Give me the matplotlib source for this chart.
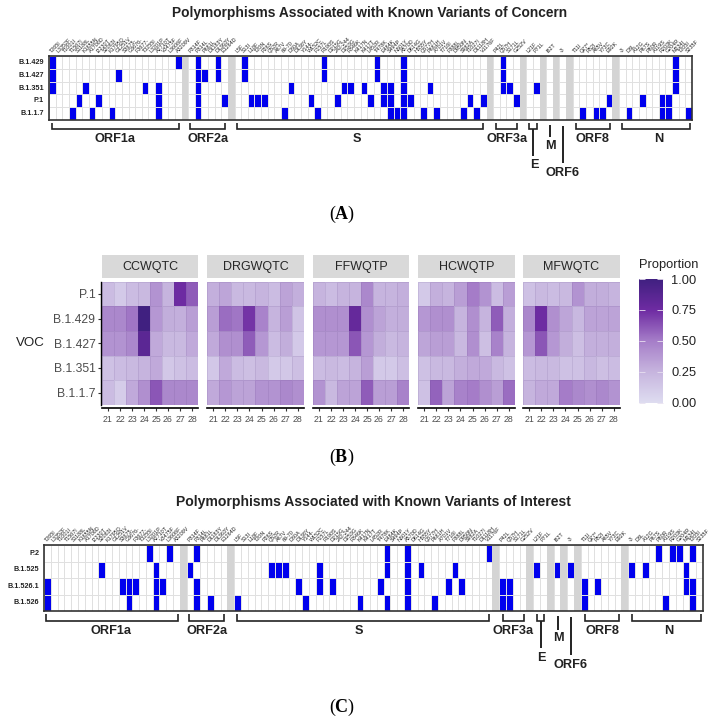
import numpy as np
import matplotlib
matplotlib.use("Agg")
import matplotlib.pyplot as plt
from matplotlib.colors import ListedColormap, LinearSegmentedColormap

plt.rcParams['font.family'] = ['Liberation Sans', 'DejaVu Sans']
plt.rcParams['mathtext.fontset'] = 'custom'
plt.rcParams['mathtext.rm'] = 'Liberation Serif'
plt.rcParams['mathtext.bf'] = 'Liberation Serif:bold'

W, H = 720, 726
N_COLS = 97

# column labels, the small text is barely readable so some of these are best guesses
orf1a = ['T265I', 'L3352F', 'T1001I', 'T1567I', 'S1188L', 'K1655N', 'A1708D', 'I2230T',
         'S2083I', 'K1795Q', 'G1251V', 'S3675-', 'G3676-', 'F3677-', 'T3255I', 'L3201P',
         'A2710T', 'V3475F', 'L3606F', 'A3209V']
orf2a = ['P314F', 'P314L', 'P681L', 'D1183Y', 'D1363Y', 'E1264D']
spike = ['L5F', 'S13I', 'L18F', 'T20N', 'P26S', 'Q52R', 'A67V', '69-70', 'D80A', 'D138Y',
         'Y144-', 'W152C', 'F157L', 'R190S', 'D215G', '242-244', 'D253G', 'R346K', 'K417N',
         'K417T', 'L452R', 'T478K', 'E484K', 'S494P', 'N501Y', 'A570D', 'D614G', 'H655Y',
         'Q677H', 'P681H', 'A701V', 'T716I', 'F888L', 'D950N', 'S982A', 'T1027I', 'D1118H',
         'V1176F']
orf3a = ['P42L', 'Q57H', 'S171L', 'G252V']
env = ['L21F', 'P71L']
mem = ['I82T']
orf6 = ['-3']
orf8 = ['T11I', 'Q27*', 'R52I', 'A65V', 'Y73C', 'E92K']
ncap = ['-3', 'D3L', 'A12G', 'P67S', 'P80R', 'A119S', 'R203K', 'G204R', 'M234I', 'T205I', 'S235F']

label_groups = [orf1a, orf2a, spike, orf3a, env, mem, orf6, orf8, ncap]
gap_cols = [20, 27, 66, 71, 74, 76, 78, 85]

# panel A, columns that are filled for each variant
voc_names = ['B.1.429', 'B.1.427', 'B.1.351', 'P.1', 'B.1.1.7']
b1429 = [0, 19, 22, 25, 29, 41, 49, 53, 68, 94]
b1427 = [0, 10, 22, 23, 25, 29, 41, 49, 53, 68, 94]
b1351 = [0, 5, 14, 16, 22, 36, 44, 45, 47, 50, 51, 53, 57, 68, 69, 73, 94]
p1 = [4, 7, 16, 22, 26, 30, 31, 32, 39, 43, 48, 50, 51, 53, 54, 63, 65, 70, 84, 89, 92, 93]
b117 = [3, 6, 9, 16, 22, 35, 40, 51, 52, 53, 56, 58, 62, 64, 80, 82, 83, 87, 92, 93, 96]
voc_hits = [b1429, b1427, b1351, p1, b117]

# panel C
voi_names = ['P.2', 'B.1.525', 'B.1.526.1', 'B.1.526']
p2 = [15, 18, 22, 50, 53, 65, 90, 92, 93, 95]
b1525 = [8, 16, 21, 33, 34, 35, 40, 50, 53, 55, 60, 72, 75, 77, 86, 88, 94]
b15261 = [0, 11, 12, 13, 16, 17, 22, 37, 40, 42, 49, 53, 59, 61, 67, 68, 79, 81, 94, 95]
b1526 = [0, 12, 16, 22, 24, 28, 38, 46, 50, 53, 57, 67, 68, 79, 91, 95]
voi_hits = [p2, b1525, b15261, b1526]

# panel B
positions = [21, 22, 23, 24, 25, 26, 27, 28]
heat_rows = ['P.1', 'B.1.429', 'B.1.427', 'B.1.351', 'B.1.1.7']
ccwqtc = [[.20, .12, .20, .22, .40, .25, .75, .60],
          [.45, .45, .52, 1.0, .38, .28, .27, .35],
          [.40, .40, .45, .85, .30, .22, .22, .30],
          [.17, .20, .22, .25, .30, .13, .17, .20],
          [.20, .10, .30, .42, .62, .45, .45, .45]]
drgwqtc = [[.27, .32, .22, .22, .25, .20, .33, .27],
           [.35, .55, .52, .72, .47, .25, .35, .15],
           [.30, .42, .42, .60, .38, .20, .28, .12],
           [.13, .30, .20, .18, .22, .12, .13, .18],
           [.30, .38, .33, .33, .40, .40, .45, .42]]
ffwqtp = [[.25, .20, .25, .25, .45, .25, .25, .27],
          [.42, .42, .42, .80, .42, .33, .27, .28],
          [.38, .38, .38, .62, .38, .28, .22, .25],
          [.20, .22, .20, .25, .35, .12, .12, .18],
          [.40, .22, .33, .33, .60, .35, .35, .48]]
hcwqtp = [[.12, .27, .25, .35, .50, .40, .20, .35],
          [.38, .42, .42, .25, .42, .25, .60, .27],
          [.32, .35, .35, .22, .42, .18, .48, .25],
          [.17, .22, .22, .27, .30, .30, .22, .17],
          [.17, .58, .33, .48, .50, .42, .35, .55]]
mfwqtc = [[.17, .22, .20, .22, .40, .28, .28, .25],
          [.45, .75, .42, .32, .23, .33, .33, .33],
          [.38, .62, .38, .28, .18, .27, .27, .27],
          [.20, .22, .22, .17, .17, .23, .18, .20],
          [.25, .30, .30, .50, .45, .42, .45, .40]]
motif_names = ['CCWQTC', 'DRGWQTC', 'FFWQTP', 'HCWQTP', 'MFWQTC']
motif_values = [ccwqtc, drgwqtc, ffwqtp, hcwqtp, mfwqtc]
cbar_ticks = [0.0, 0.25, 0.5, 0.75, 1.0]

# bracket spans in pixels: left, right, label, label x
A_BRACKETS = [(52, 179, 'ORF1a', 115), (190, 225, 'ORF2a', 208), (237, 483, 'S', 357),
              (496, 517, 'ORF3a', 507), (576, 610, 'ORF8', 593), (622, 690, 'N', 659)]
C_BRACKETS = [(46, 178, 'ORF1a', 111), (189, 224, 'ORF2a', 207), (237, 489, 'S', 359),
              (503, 524, 'ORF3a', 513), (585, 619, 'ORF8', 602), (632, 701, 'N', 669)]


def px_axes(fig, left, top, right, bottom):
    return fig.add_axes([left / W, 1 - bottom / H, (right - left) / W, (bottom - top) / H])


def grid_panel(fig, box, names, hits, name_right):
    ax = px_axes(fig, *box)
    matrix = np.zeros((len(names), N_COLS))
    for r, cols in enumerate(hits):
        matrix[r, cols] = 1
    ax.pcolormesh(np.arange(N_COLS + 1), np.arange(len(names) + 1), matrix,
                  cmap=ListedColormap(['white', '#0000ee']), vmin=0, vmax=1,
                  edgecolors='#e0e0e0', linewidth=0.6)
    for g in gap_cols:
        ax.axvspan(g, g + 1, color='#d4d4d4', lw=0, zorder=3)
    ax.set_xlim(0, N_COLS)
    ax.set_ylim(len(names), 0)

    labels = []
    ticks = []
    col = 0
    for group in label_groups:
        for name in group:
            ticks.append(col + 0.5)
            labels.append(name)
            col += 1
        col += 1
    ax.xaxis.tick_top()
    ax.set_xticks(ticks)
    ax.set_xticklabels(labels, rotation=45, ha='left', va='bottom', rotation_mode='anchor',
                       fontsize=3.9, color='#222222')
    ax.tick_params(axis='x', length=0, pad=1.5)
    ax.set_yticks([])
    for s in ax.spines.values():
        s.set_linewidth(1.2)
        s.set_color('#333333')
        s.set_zorder(5)
    row_h = (box[3] - box[1]) / len(names)
    for i, n in enumerate(names):
        ov.text(name_right, box[1] + row_h * (i + 0.5), n, ha='right', va='center',
                fontsize=5.2, fontweight='bold', color='#222222')


def bracket(x0, x1, top, bot):
    ov.plot([x0, x0, x1, x1], [top, bot, bot, top], color='#222222', lw=1.2,
            solid_joinstyle='miter', solid_capstyle='butt')


def gene(x, y, s):
    ov.text(x, y, s, ha='center', va='center', fontsize=9.2, fontweight='bold', color='#222222')


def vline(x, y0, y1):
    ov.plot([x, x], [y0, y1], color='#222222', lw=1.4, solid_capstyle='butt')


fig = plt.figure(figsize=(W / 100, H / 100), dpi=100)
fig.patch.set_facecolor('white')

ov = fig.add_axes([0, 0, 1, 1], zorder=10)
ov.set_xlim(0, W)
ov.set_ylim(H, 0)
ov.axis('off')
ov.patch.set_alpha(0)

# panel A
grid_panel(fig, (49, 56, 692, 120), voc_names, voc_hits, 44)
ov.text(370, 13, 'Polymorphisms Associated with Known Variants of Concern', ha='center',
        va='center', fontsize=9.9, fontweight='bold', color='#222222')
for x0, x1, name, xc in A_BRACKETS:
    bracket(x0, x1, 123, 129)
    gene(xc, 139, name)
bracket(529, 537, 123, 129)
vline(533, 129, 156)
gene(534, 165, 'E')
vline(550, 125, 137)
gene(550, 146, 'M')
vline(563, 126, 163)
gene(563, 173, 'ORF6')

# panel B
boxes = [(102, 198), (207, 304), (313, 409), (418, 515), (523, 620)]
purple = LinearSegmentedColormap.from_list(
    'prop', [(0, '#dedcf0'), (.25, '#c6b4de'), (.5, '#a57dc8'), (.75, '#6e2ba2'), (1, '#402080')])
for i, (l, r) in enumerate(boxes):
    ax = px_axes(fig, l, 281.5, r, 405)
    # spine positions go first, moving a spine resets the ticks
    for s in ['top', 'right', 'left']:
        ax.spines[s].set_visible(False)
    ax.spines['bottom'].set_position(('outward', 2))
    ax.spines['bottom'].set_linewidth(1.2)
    if i == 0:
        ax.spines['left'].set_visible(True)
        ax.spines['left'].set_position(('outward', 1))
        ax.spines['left'].set_linewidth(1.0)
    mesh = ax.pcolormesh(np.arange(9), np.arange(6), np.array(motif_values[i]), cmap=purple,
                         vmin=0, vmax=1, edgecolors=(0.35, 0.25, 0.5, 0.12), linewidth=0.5)
    ax.set_ylim(5, 0)
    ax.set_xlim(0, 8)
    ax.set_xticks(np.arange(8) + 0.5)
    ax.set_xticklabels(positions, fontsize=6.3, color='#4d4d4d')
    ax.tick_params(axis='x', length=2.2, width=0.8, pad=3, color='#333333')
    if i == 0:
        ax.set_yticks(np.arange(5) + 0.5)
        ax.set_yticklabels(heat_rows, fontsize=8.7, color='#4d4d4d')
        ax.tick_params(axis='y', length=2.2, width=0.8, pad=1.5, color='#333333')
    else:
        ax.set_yticks([])
    strip = px_axes(fig, l, 255, r, 278)
    strip.set_facecolor('#d9d9d9')
    strip.set_xticks([])
    strip.set_yticks([])
    for s in strip.spines.values():
        s.set_visible(False)
    strip.text(0.5, 0.48, motif_names[i], transform=strip.transAxes, ha='center', va='center',
               fontsize=9, color='#262626')

ov.text(30, 343, 'VOC', ha='center', va='center', fontsize=9.6, color='#222222')
ov.text(639, 265, 'Proportion', ha='left', va='center', fontsize=9.3, color='#222222')
cax = px_axes(fig, 639, 279, 663, 402.5)
cb = fig.colorbar(mesh, cax=cax, ticks=cbar_ticks)
cb.ax.set_yticklabels(['0.00', '0.25', '0.50', '0.75', '1.00'], fontsize=9.3, color='#222222')
cb.ax.tick_params(axis='y', direction='in', length=4.5, width=0.6, color='#e8e0f0', pad=6,
                  left=True, right=True)
cb.outline.set_visible(False)

# panel C
grid_panel(fig, (44, 545, 703, 611), voi_names, voi_hits, 39)
ov.text(373, 502, 'Polymorphisms Associated with Known Variants of Interest', ha='center',
        va='center', fontsize=10.1, fontweight='bold', color='#222222')
for x0, x1, name, xc in C_BRACKETS:
    bracket(x0, x1, 614, 620.5)
    gene(xc, 631, name)
bracket(537, 544, 614, 620.5)
vline(540.5, 620.5, 648)
gene(541, 658, 'E')
vline(558, 616, 630)
gene(558, 638, 'M')
vline(571, 617, 655)
gene(571, 665, 'ORF6')

# panel letters
for letter, y in zip('ABC', [214, 457, 707]):
    ov.text(342, y, r'($\mathbf{%s}$)' % letter, ha='center', va='center', fontsize=13,
            family='Liberation Serif', color='black')

fig.savefig('out.png', dpi=100)
